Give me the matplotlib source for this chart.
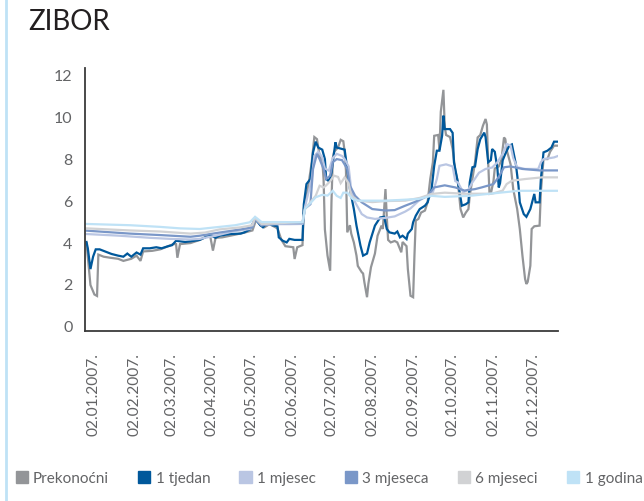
import numpy as np
import pandas as pd
import matplotlib
matplotlib.use("Agg")
import matplotlib.pyplot as plt
import matplotlib.dates as mdates
from matplotlib.patches import Rectangle
from matplotlib.lines import Line2D
from matplotlib.transforms import ScaledTranslation

# day of year 2007 and rate (%)
pre_day = [2, 5, 8, 10, 11, 15, 20, 26, 30, 36, 40, 43, 45, 52, 58, 64, 68, 70, 71, 73, 81, 88, 93, 96, 98, 100,
           105, 115, 122, 128, 131, 134, 137, 141, 147, 150, 153, 159, 160, 162, 166, 167, 170, 173, 175, 177,
           179, 181, 182, 183, 185, 187, 188, 189, 190, 193, 195, 197, 198, 199, 200, 202, 203, 205, 207, 208,
           211, 212, 213, 215, 216, 218, 221, 223, 226, 227, 229, 230, 231, 233, 236, 238, 241, 242, 245, 246,
           248, 250, 251, 252, 254, 256, 259, 261, 263, 265, 266, 269, 270, 271, 273, 274, 275, 278, 280, 282,
           284, 285, 286, 288, 290, 292, 293, 295, 297, 299, 301, 303, 305, 306, 307, 308, 309, 311, 312, 315,
           317, 319, 320, 321, 324, 326, 329, 331, 333, 335, 336, 337, 339, 340, 342, 346, 347, 349, 352, 354,
           357, 360]
pre_val = [3.95, 1.95, 1.5, 1.43, 3.4, 3.3, 3.25, 3.2, 3.1, 3.2, 3.35, 3.1, 3.55, 3.58, 3.65, 3.8, 3.9, 3.9, 3.25,
           3.9, 3.95, 4.1, 4.25, 4.25, 3.59, 4.2, 4.22, 4.35, 4.45, 4.55, 5.1, 4.8, 4.7, 4.85, 4.65, 4.1, 3.8,
           3.75, 3.19, 3.75, 3.85, 5.6, 6.5, 7.8, 9.0, 8.9, 8.1, 7.9, 7.0, 4.6, 3.35, 2.63, 5.9, 8.0, 8.3, 8.5,
           8.87, 8.8, 8.3, 7.4, 4.46, 4.8, 4.4, 3.98, 3.35, 2.86, 2.56, 2.5, 2.08, 1.37, 2.0, 2.8, 3.45, 4.3,
           4.78, 4.62, 6.52, 5.2, 4.1, 3.98, 4.05, 3.98, 3.51, 4.0, 3.8, 2.71, 1.44, 1.37, 3.35, 5.02, 5.1, 5.4,
           5.5, 5.9, 7.0, 7.8, 9.06, 9.1, 8.4, 10.2, 11.25, 9.5, 9.1, 9.0, 8.43, 7.4, 6.84, 6.2, 5.57, 5.17, 5.4,
           5.57, 6.2, 7.0, 7.8, 8.98, 9.1, 9.54, 9.86, 9.6, 7.8, 6.29, 6.3, 6.9, 7.5, 7.6, 7.9, 8.98, 8.9, 8.4,
           7.7, 6.52, 5.57, 4.62, 3.35, 2.24, 2.0, 2.1, 2.87, 4.62, 4.75, 4.78, 6.4, 7.95, 7.95, 8.3, 8.59, 8.59]

tj_day = [2, 3, 5, 7, 9, 12, 16, 21, 26, 30, 33, 36, 40, 43, 45, 50, 55, 59, 64, 67, 70, 77, 84, 88, 93, 97, 100,
          103, 111, 119, 122, 126, 130, 134, 136, 139, 143, 147, 148, 151, 154, 156, 160, 166, 167, 169, 172,
          174, 176, 178, 181, 183, 184, 186, 188, 191, 192, 195, 198, 200, 202, 205, 207, 210, 212, 215, 217,
          221, 225, 228, 230, 232, 236, 238, 240, 242, 245, 246, 249, 250, 252, 255, 259, 261, 264, 266, 268,
          270, 272, 273, 274, 278, 280, 281, 283, 285, 287, 290, 292, 293, 295, 297, 299, 301, 304, 305, 307,
          309, 310, 312, 314, 315, 316, 318, 320, 323, 325, 328, 330, 331, 334, 336, 339, 342, 343, 346, 347,
          349, 352, 355, 357, 360]
tj_val = [4.0, 3.7, 2.71, 3.3, 3.65, 3.65, 3.55, 3.43, 3.35, 3.3, 3.45, 3.3, 3.5, 3.4, 3.7, 3.7, 3.75, 3.7, 3.8,
          3.85, 4.06, 4.0, 4.06, 4.1, 4.25, 4.3, 4.2, 4.3, 4.38, 4.4, 4.46, 4.6, 5.1, 4.8, 4.7, 4.9, 4.8, 4.75,
          4.22, 4.06, 3.98, 4.15, 4.1, 4.1, 5.8, 6.76, 7.0, 8.27, 8.78, 8.5, 8.4, 7.95, 7.0, 6.9, 7.3, 8.75,
          8.5, 8.45, 8.4, 7.48, 6.52, 5.57, 4.78, 3.83, 3.35, 3.45, 3.98, 4.78, 5.17, 5.2, 4.62, 4.46, 4.4, 4.5,
          4.22, 4.3, 4.14, 4.4, 4.62, 4.94, 5.25, 5.57, 5.73, 5.89, 6.52, 7.63, 8.35, 8.35, 9.06, 10.02, 9.38,
          9.38, 9.2, 7.8, 7.16, 6.5, 5.73, 5.8, 5.89, 6.84, 7.56, 7.6, 8.43, 8.9, 9.21, 9.0, 7.8, 7.9, 8.43,
          8.3, 7.5, 6.6, 6.8, 7.89, 8.2, 8.59, 8.65, 7.71, 6.68, 5.89, 5.33, 5.2, 5.57, 6.29, 5.89, 5.89, 7.0,
          8.27, 8.35, 8.5, 8.78, 8.78]

m1_day = [2, 27, 50, 65, 81, 88, 100, 113, 126, 130, 135, 145, 156, 166, 168, 173, 175, 178, 181, 183, 186, 189,
          192, 196, 198, 201, 203, 206, 211, 215, 221, 229, 236, 244, 248, 254, 261, 265, 268, 270, 275, 280,
          282, 284, 288, 292, 295, 300, 305, 310, 314, 318, 321, 324, 326, 329, 335, 345, 347, 349, 357, 360]
m1_val = [4.38, 4.3, 4.2, 4.15, 4.12, 4.15, 4.3, 4.5, 4.62, 5.1, 4.8, 4.85, 4.85, 4.86, 5.7, 7.0, 8.1, 8.3, 8.03,
          7.5, 7.4, 8.0, 8.2, 8.1, 7.95, 7.6, 6.5, 5.89, 5.33, 5.17, 5.1, 5.15, 5.22, 5.45, 5.6, 5.95, 6.21,
          6.37, 7.0, 7.63, 7.7, 7.6, 6.9, 6.84, 6.37, 6.5, 6.84, 7.3, 7.48, 7.55, 7.8, 8.2, 8.67, 8.6, 8.0,
          7.56, 7.48, 7.48, 7.8, 7.95, 8.03, 8.1]

m3_day = [2, 35, 58, 81, 88, 103, 119, 128, 130, 135, 145, 166, 168, 172, 174, 177, 179, 182, 184, 187, 189, 192,
          196, 200, 202, 206, 211, 219, 229, 236, 244, 251, 261, 266, 274, 282, 289, 297, 302, 311, 315, 319,
          324, 333, 346, 360]
m3_val = [4.54, 4.4, 4.33, 4.25, 4.3, 4.45, 4.6, 4.7, 5.1, 4.8, 4.9, 4.9, 5.6, 5.8, 7.48, 8.2, 7.95, 7.48, 7.0,
          7.16, 7.8, 7.95, 7.9, 7.48, 6.68, 6.2, 5.89, 5.57, 5.5, 5.52, 5.73, 5.9, 6.2, 6.6, 6.7, 6.6, 6.45,
          6.52, 6.6, 6.76, 7.1, 7.56, 7.6, 7.48, 7.41, 7.41]

m6_day = [2, 35, 58, 81, 92, 103, 119, 128, 130, 135, 149, 166, 168, 176, 179, 182, 184, 187, 190, 193, 195, 198,
          201, 203, 208, 219, 229, 244, 255, 264, 274, 289, 310, 318, 321, 325, 335, 348, 360]
m6_val = [4.65, 4.55, 4.5, 4.4, 4.45, 4.6, 4.7, 4.8, 5.15, 4.85, 4.9, 4.95, 5.6, 6.2, 6.68, 6.6, 6.7, 6.9, 7.16,
          7.1, 6.8, 7.08, 6.8, 6.2, 5.97, 5.9, 5.95, 5.97, 6.1, 6.29, 6.35, 6.3, 6.3, 6.45, 6.76, 6.92, 7.0,
          7.08, 7.08]

g1_day = [2, 35, 58, 73, 88, 100, 115, 126, 130, 135, 149, 166, 168, 172, 176, 181, 185, 189, 192, 195, 197, 200,
          204, 208, 229, 239, 254, 264, 274, 293, 316, 330, 360]
g1_val = [4.86, 4.8, 4.72, 4.65, 4.62, 4.7, 4.8, 4.94, 5.2, 4.95, 4.95, 4.94, 5.6, 5.85, 6.13, 6.25, 6.21, 6.44,
          6.2, 6.1, 6.35, 6.35, 6.05, 5.97, 5.97, 6.0, 6.05, 6.2, 6.15, 6.2, 6.35, 6.44, 6.44]

names = ["Prekonoćni", "1 tjedan", "1 mjesec", "3 mjeseca", "6 mjeseci", "1 godina"]
colors = ["#939598", "#00589b", "#bac6e3", "#7a97c8", "#d1d2d4", "#bfe2f6"]
series = [(pre_day, pre_val), (tj_day, tj_val), (m1_day, m1_val),
          (m3_day, m3_val), (m6_day, m6_val), (g1_day, g1_val)]

year0 = pd.Timestamp("2007-01-01")


def to_dates(days):
    return year0 + pd.to_timedelta(np.array(days) - 1, unit="D")


plt.rcParams["font.family"] = ["Lato", "DejaVu Sans"]

fig = plt.figure(figsize=(6.44, 5.02), dpi=100)
ax = fig.add_axes([85 / 644, 1 - 332 / 502, 473 / 644, 263 / 502])

for (d, v), c in zip(series, colors):
    ax.plot(to_dates(d), v, color=c, lw=1.6, solid_joinstyle="miter")

base = mdates.date2num(year0)
ax.set_xlim(base - 0.14, base + 359)
ax.set_ylim(-0.24, 12.29)
ax.set_yticks(range(0, 13, 2))

ticks = pd.date_range("2007-01-01", periods=12, freq="MS") + pd.Timedelta(days=1)
ax.set_xticks(ticks)
ax.xaxis.set_major_formatter(mdates.DateFormatter("%d.%m.%Y."))
ax.tick_params(axis="x", length=0, pad=15, labelrotation=90, labelsize=11.2, labelcolor="#636466")
ax.tick_params(axis="y", length=0, pad=9, labelsize=11.5, labelcolor="#636466")
off = ScaledTranslation(5 / 72, 0, fig.dpi_scale_trans)
for lab in ax.get_xticklabels():
    lab.set_transform(lab.get_transform() + off)

for s in ["top", "right"]:
    ax.spines[s].set_visible(False)
for s in ["left", "bottom"]:
    ax.spines[s].set_color("#3a3a3a")
    ax.spines[s].set_linewidth(1.3)

fig.text(28 / 644, 1 - 22 / 502, "ZIBOR", fontsize=20, color="#231f20", va="center", ha="left")
fig.add_artist(Line2D([6 / 644, 6 / 644], [0, 1], color="#bfe2f6", lw=2))

handles = [Rectangle((0, 0), 1, 1, color=c) for c in colors]
fig.legend(handles, names, loc="center", bbox_to_anchor=(329 / 644, 1 - 479 / 502), ncol=6,
           frameon=False, handlelength=0.8, handleheight=0.8, handletextpad=0.35, columnspacing=1.9,
           fontsize=11, labelcolor="#636466", borderpad=0, borderaxespad=0)

fig.savefig("out.png", dpi=100)
